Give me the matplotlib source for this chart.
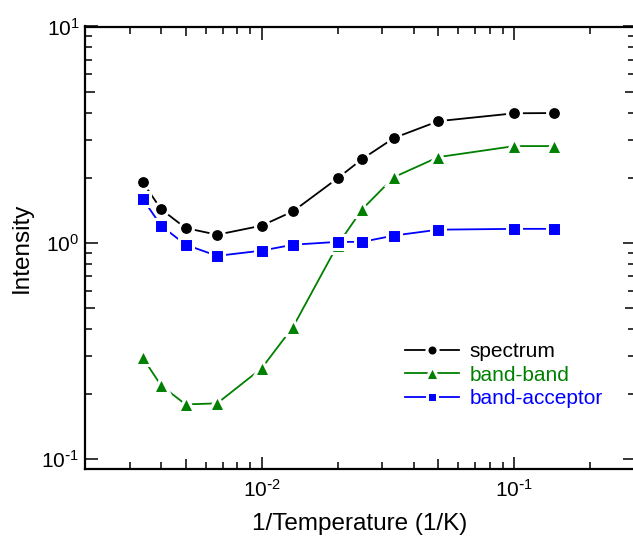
import matplotlib
matplotlib.use('Agg')
import matplotlib.pyplot as plt
import numpy as np
from matplotlib.ticker import LogLocator, NullFormatter, FixedLocator, NullLocator, FuncFormatter

plt.rcParams['font.family'] = ['Liberation Sans', 'DejaVu Sans']
plt.rcParams['mathtext.default'] = 'regular'
plt.rcParams['axes.unicode_minus'] = False

# Data
temperature = np.array([296, 250, 200, 150, 100, 75, 50, 40, 30, 20, 10, 7])
inv_temp = 1.0 / temperature
spectrum = [1.91, 1.43, 1.17, 1.09, 1.20, 1.40, 1.99, 2.44, 3.05, 3.65, 3.97, 3.98]
band_band = [0.295, 0.219, 0.179, 0.181, 0.263, 0.410, 0.98, 1.43, 2.01, 2.49, 2.80, 2.80]
band_acceptor = [1.60, 1.20, 0.98, 0.87, 0.92, 0.98, 1.01, 1.01, 1.08, 1.15, 1.16, 1.16]

fig = plt.figure(figsize=(6.33, 5.38), dpi=100)
ax = fig.add_axes([85 / 633, 69 / 538, 550 / 633, 442.5 / 538])

style = dict(lw=1.3, mec='white', mew=2.2)
ax.plot(inv_temp, spectrum, color='black', marker='o', ms=10, label='spectrum', **style)
ax.plot(inv_temp, band_band, color='#008000', marker='^', ms=12, label='band-band', **style)
ax.plot(inv_temp, band_acceptor, color='#0000ff', marker='s', ms=9.5, label='band-acceptor', **style)

ax.set_xscale('log')
ax.set_yscale('log')
ax.set_xlim(0.002, 0.3)
ax.set_ylim(0.09, 10)


def pow10(v, pos):
    e = int(round(np.log10(v)))
    if e < 0:
        return r'$10^{\text{-}%d}$' % (-e)
    return r'$10^{%d}$' % e


for a in (ax.xaxis, ax.yaxis):
    a.set_major_locator(LogLocator(base=10))
    a.set_major_formatter(FuncFormatter(pow10))
    a.set_minor_locator(LogLocator(base=10, subs=(2, 3, 4, 6, 7, 8, 9)))
    a.set_minor_formatter(NullFormatter())

ax.tick_params(which='both', direction='in', top=True, right=True, width=1.1)
ax.tick_params(which='major', length=9, labelsize=15)
ax.tick_params(axis='x', which='major', pad=7)
ax.tick_params(axis='y', which='major', pad=4)
ax.tick_params(which='minor', length=5)
for s in ax.spines.values():
    s.set_linewidth(1.6)

# medium ticks at 5 x 10^n
fives = [5 * 10.0 ** k for k in range(-4, 2)]
for loc in ('bottom', 'top'):
    sec = ax.secondary_xaxis(loc)
    sec.xaxis.set_major_locator(FixedLocator(fives))
    sec.xaxis.set_minor_locator(NullLocator())
    sec.tick_params(direction='in', length=7, width=1.1, labelbottom=False, labeltop=False)
    sec.spines[loc].set_visible(False)
for loc in ('left', 'right'):
    sec = ax.secondary_yaxis(loc)
    sec.yaxis.set_major_locator(FixedLocator(fives))
    sec.yaxis.set_minor_locator(NullLocator())
    sec.tick_params(direction='in', length=7, width=1.1, labelleft=False, labelright=False)
    sec.spines[loc].set_visible(False)

ax.set_xlabel('1/Temperature (1/K)', fontsize=17.5, labelpad=9)
ax.set_ylabel('Intensity', fontsize=17.5, labelpad=6)

ax.legend(loc='upper left', bbox_to_anchor=(405 / 633, 1 - 342 / 538),
          bbox_transform=fig.transFigure, frameon=False, fontsize=15,
          handlelength=2.6, handletextpad=0.5, labelspacing=0.22,
          borderpad=0, borderaxespad=0, labelcolor='linecolor', markerscale=0.8)

plt.savefig('out.png', dpi=100)
